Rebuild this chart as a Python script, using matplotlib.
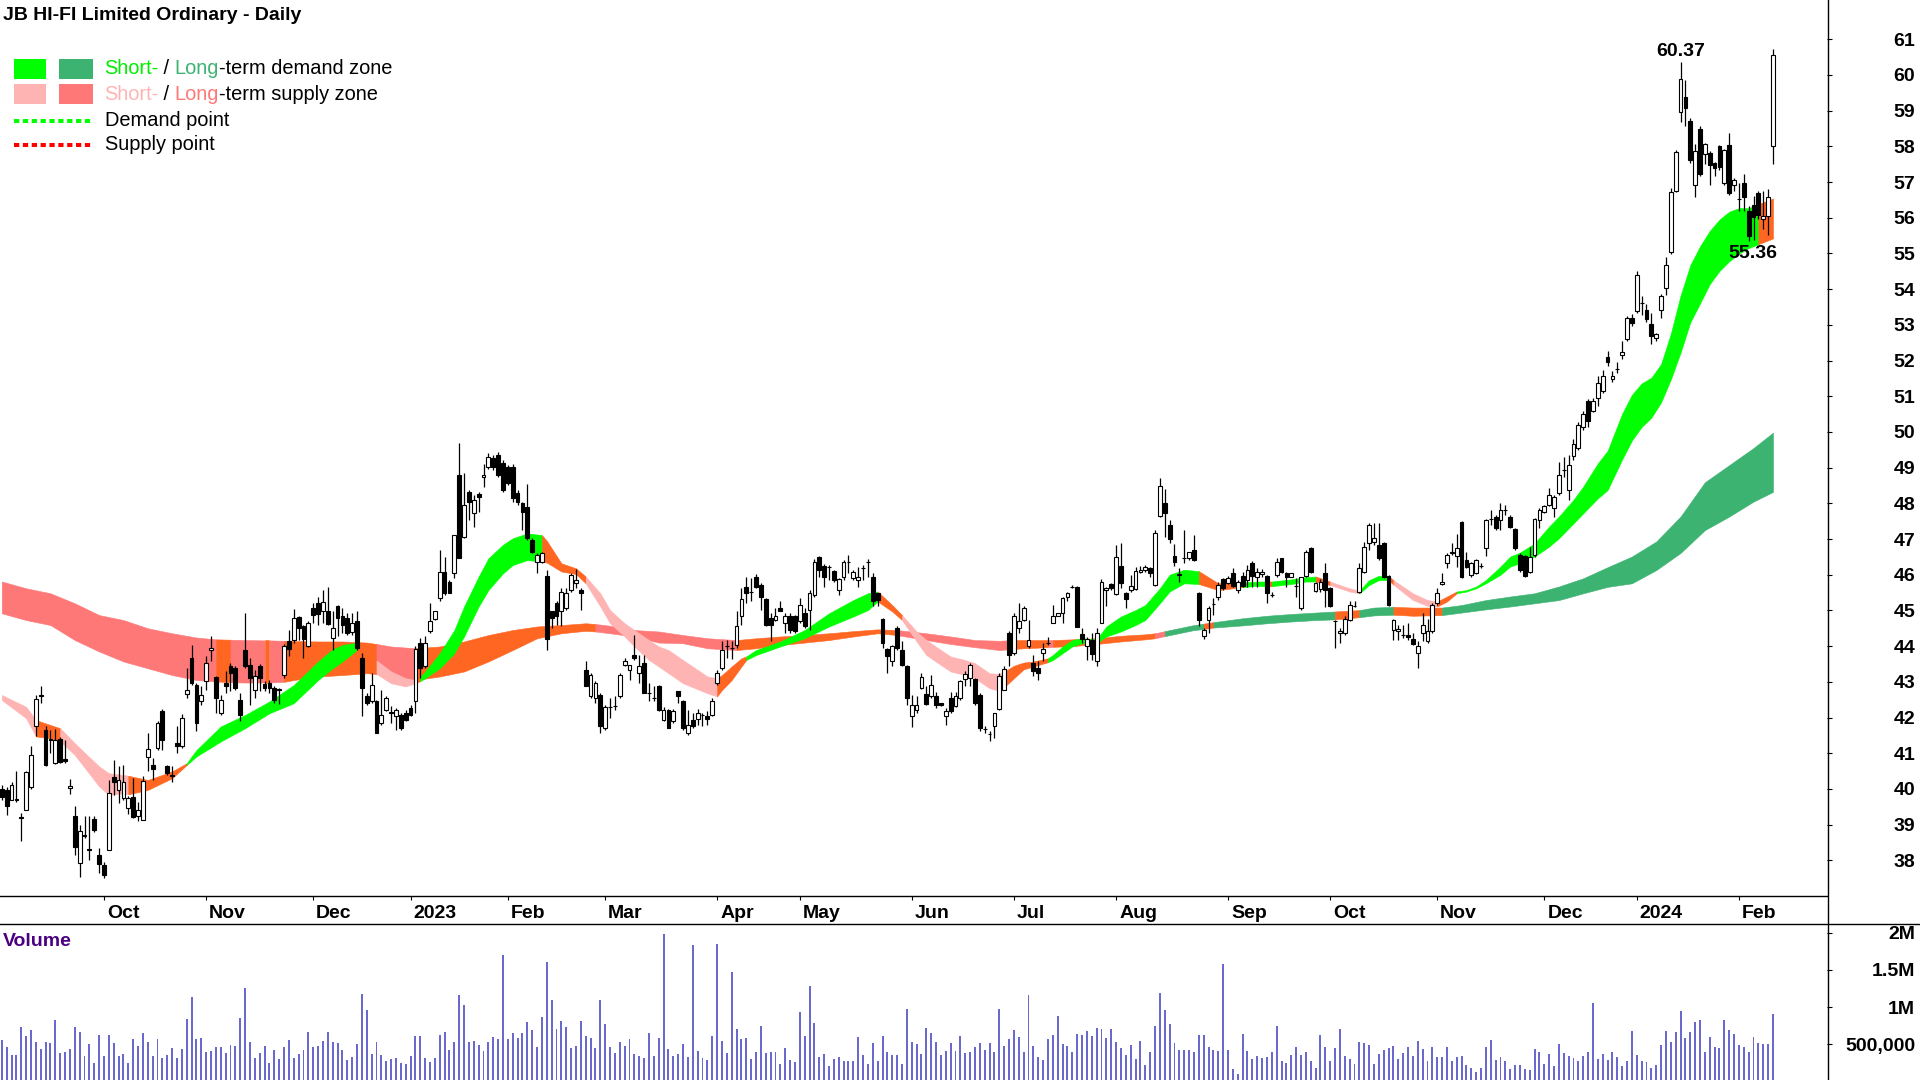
import numpy as np
import matplotlib.pyplot as plt
from matplotlib.lines import Line2D
from matplotlib.patches import Rectangle

# daily candles, index 0 = first trading day shown (early Sep 2022)
opens = [
    40.00, 39.98, 39.70, 39.68, 39.20, 39.42, 40.05, 41.75, 42.64, 41.66,
    41.40, 40.72, 41.40, 40.84, 40.02, 39.25, 37.92, 38.70, 38.32, 39.17,
    38.15, 37.88, 38.30, 40.33, 39.98, 39.74, 39.46, 39.77, 39.23, 39.14,
    40.89, 40.68, 41.14, 42.17, 40.63, 40.38, 41.30, 41.19, 42.66, 43.66,
    42.90, 42.47, 43.01, 43.88, 43.13, 42.12, 42.98, 43.43, 43.38, 42.50,
    43.90, 43.47, 42.78, 43.45, 42.94, 42.98, 42.82, 42.80, 43.20, 44.13,
    44.18, 44.81, 44.57, 43.99, 45.06, 45.20, 44.97, 44.99, 44.24, 45.13,
    44.85, 44.78, 44.40, 44.70, 43.66, 42.60, 42.45, 42.46, 41.84, 42.21,
    42.16, 42.03, 42.07, 42.12, 42.26, 42.45, 44.10, 43.43, 44.41, 44.75,
    45.34, 46.09, 45.81, 46.04, 48.80, 47.07, 48.33, 47.72, 48.26, 48.73,
    49.03, 49.26, 49.36, 49.12, 49.03, 49.03, 48.28, 48.00, 47.89, 46.97,
    46.37, 46.37, 45.97, 44.97, 45.22, 44.97, 45.06, 45.57, 45.76, 45.57,
    43.33, 42.59, 42.54, 42.63, 41.70, 42.29, 42.33, 42.59, 43.47, 43.33,
    43.75, 43.24, 43.54, 42.68, 42.54, 42.87, 41.93, 42.21, 41.89, 42.75,
    42.45, 41.56, 41.93, 41.95, 42.07, 42.03, 42.07, 42.96, 43.38, 43.99,
    43.94, 44.03, 44.83, 45.67, 45.53, 45.95, 45.71, 45.32, 44.78, 44.73,
    45.06, 44.64, 44.85, 44.83, 44.69, 44.92, 45.01, 45.43, 46.51, 46.25,
    46.23, 46.11, 45.57, 45.93, 46.37, 45.90, 45.85, 46.18, 46.37, 45.95,
    45.48, 44.75, 43.91, 43.57, 44.50, 43.89, 43.45, 42.03, 42.21, 42.82,
    42.66, 42.59, 42.60, 42.40, 42.03, 42.54, 42.31, 42.54, 43.07, 43.10,
    43.07, 42.63, 41.67, 41.54, 41.76, 42.23, 42.77, 44.36, 43.80, 44.50,
    44.73, 43.99, 43.52, 43.38, 43.80, 44.08, 44.66, 44.85, 44.94, 45.37,
    45.67, 45.67, 44.34, 43.99, 44.17, 43.57, 44.66, 45.57, 45.74, 45.46,
    46.25, 45.50, 45.57, 45.59, 46.07, 46.13, 46.18, 45.71, 47.65, 48.00,
    47.40, 46.53, 46.00, 46.46, 46.46, 46.68, 45.50, 44.29, 44.73, 45.18,
    45.39, 45.88, 45.78, 46.04, 45.57, 45.97, 45.85, 46.34, 45.95, 46.02,
    45.97, 45.43, 45.99, 46.46, 46.06, 45.95, 45.69, 45.06, 45.97, 46.74,
    45.55, 45.60, 46.06, 45.62, 44.69, 44.36, 44.36, 44.73, 45.13, 45.53,
    46.09, 46.88, 46.93, 46.83, 46.90, 45.97, 44.45, 44.43, 44.31, 44.31,
    44.19, 43.82, 44.36, 44.15, 44.41, 45.20, 45.74, 46.34, 46.60, 46.53,
    47.49, 46.41, 45.99, 46.04, 46.25, 46.74, 47.55, 47.63, 47.53, 47.80,
    47.63, 47.27, 46.55, 46.53, 46.09, 46.55, 47.53, 47.77, 47.96, 47.86,
    48.28, 48.94, 48.38, 49.33, 49.55, 50.13, 50.88, 50.60, 50.94, 51.15,
    52.11, 51.47, 51.77, 52.16, 52.59, 53.18, 53.39, 53.60, 53.41, 53.02,
    52.62, 53.41, 54.03, 55.04, 56.75, 58.96, 59.37, 58.71, 56.93, 58.49,
    57.79, 57.82, 57.52, 58.00, 56.97, 58.03, 56.93, 56.53, 56.97, 56.19,
    56.35, 56.70, 55.96, 56.06, 58.00,
]
highs = [
    40.10, 40.05, 40.18, 40.49, 39.32, 40.50, 41.19, 42.64, 42.89, 41.75,
    41.66, 41.68, 41.45, 41.38, 40.27, 39.51, 39.00, 39.23, 39.23, 39.25,
    38.35, 37.95, 40.26, 40.82, 40.63, 40.67, 39.80, 40.30, 39.62, 40.35,
    41.56, 40.86, 41.90, 42.24, 40.68, 40.63, 41.75, 42.10, 43.38, 44.04,
    42.98, 42.88, 43.71, 44.29, 43.15, 42.64, 43.29, 43.54, 43.43, 42.68,
    44.92, 43.66, 43.34, 43.50, 43.01, 43.05, 42.87, 42.82, 44.06, 44.44,
    45.04, 44.83, 44.60, 44.71, 45.20, 45.37, 45.56, 45.67, 44.97, 45.16,
    45.06, 44.92, 44.92, 44.99, 43.80, 42.68, 43.24, 42.49, 42.77, 42.59,
    42.31, 42.26, 42.12, 42.21, 42.35, 44.00, 44.22, 44.27, 45.22, 44.99,
    46.70, 46.50, 45.85, 47.11, 49.68, 48.84, 48.38, 48.24, 48.33, 49.10,
    49.42, 49.36, 49.45, 49.21, 49.07, 49.10, 48.38, 48.05, 48.53, 47.02,
    46.60, 46.65, 46.13, 44.97, 45.25, 45.62, 45.62, 46.04, 46.15, 45.62,
    43.57, 43.26, 43.01, 42.68, 42.35, 42.54, 42.59, 43.24, 43.66, 43.47,
    44.31, 43.75, 43.75, 42.96, 42.87, 42.91, 42.29, 42.24, 42.24, 42.75,
    42.50, 42.21, 42.12, 42.24, 42.12, 42.17, 42.54, 43.33, 44.13, 44.17,
    44.13, 44.97, 45.62, 45.95, 45.90, 46.02, 45.76, 45.34, 44.92, 45.06,
    45.25, 44.94, 44.94, 44.87, 45.34, 45.06, 45.57, 46.43, 46.53, 46.30,
    46.27, 46.13, 45.90, 46.41, 46.55, 46.13, 46.23, 46.27, 46.43, 46.04,
    45.50, 44.78, 43.94, 44.03, 44.55, 44.13, 43.48, 42.63, 42.59, 43.24,
    42.87, 43.19, 42.72, 42.40, 42.26, 42.72, 42.72, 43.05, 43.29, 43.54,
    43.10, 42.68, 41.75, 41.61, 42.14, 43.24, 43.43, 44.41, 44.92, 45.20,
    45.11, 44.73, 43.75, 43.57, 44.08, 44.25, 45.15, 44.94, 45.39, 45.53,
    45.71, 45.69, 44.50, 44.25, 44.36, 44.50, 45.88, 45.67, 45.78, 46.83,
    46.88, 45.53, 45.99, 46.23, 46.25, 46.27, 46.21, 47.24, 48.70, 48.39,
    47.53, 46.86, 46.18, 47.26, 46.65, 47.10, 45.53, 44.50, 45.11, 45.34,
    45.81, 45.90, 45.97, 46.18, 45.85, 46.09, 46.27, 46.39, 46.18, 46.16,
    46.00, 45.53, 46.48, 46.48, 46.09, 46.06, 45.90, 45.95, 46.69, 46.79,
    45.81, 45.87, 46.34, 45.67, 44.73, 44.50, 44.83, 45.25, 45.25, 46.32,
    46.93, 47.44, 47.44, 47.44, 46.93, 46.00, 44.75, 44.59, 44.59, 44.64,
    44.36, 44.13, 44.92, 44.75, 45.22, 45.62, 46.04, 46.60, 46.88, 47.13,
    47.51, 46.65, 46.37, 46.43, 46.32, 47.57, 47.81, 47.67, 48.02, 47.95,
    47.67, 47.30, 46.60, 46.55, 46.79, 47.58, 47.86, 47.96, 48.42, 48.24,
    49.17, 49.30, 49.35, 49.80, 50.28, 50.60, 50.93, 50.95, 51.57, 51.73,
    52.27, 51.70, 51.95, 52.54, 53.24, 53.29, 54.50, 53.82, 53.58, 53.34,
    52.77, 53.86, 54.91, 56.83, 57.89, 60.37, 59.85, 58.79, 58.08, 58.57,
    58.09, 57.87, 57.55, 58.03, 57.93, 58.38, 57.10, 56.97, 57.23, 56.33,
    56.60, 56.75, 56.75, 56.80, 60.73,
]
lows = [
    39.70, 39.28, 39.68, 39.62, 38.53, 39.40, 40.00, 41.47, 42.40, 40.65,
    41.00, 40.70, 40.72, 40.72, 39.85, 38.16, 37.52, 38.62, 38.02, 38.80,
    37.64, 37.50, 38.28, 39.84, 39.60, 39.70, 39.30, 39.18, 39.10, 39.12,
    40.49, 40.24, 41.10, 41.10, 40.40, 40.18, 41.00, 41.15, 42.55, 42.92,
    41.61, 42.36, 42.78, 43.57, 42.12, 42.07, 42.68, 42.73, 42.78, 41.89,
    43.40, 42.36, 42.54, 42.73, 42.73, 42.68, 42.40, 42.38, 43.10, 43.71,
    44.08, 44.18, 43.66, 43.97, 44.64, 44.60, 44.64, 44.60, 43.89, 44.27,
    44.36, 44.31, 44.31, 43.89, 42.03, 42.35, 42.40, 41.56, 41.79, 42.17,
    41.84, 41.65, 41.65, 41.89, 42.03, 42.12, 43.10, 43.38, 44.36, 44.73,
    45.25, 45.43, 45.48, 45.90, 46.46, 47.02, 47.53, 47.35, 47.77, 48.47,
    48.95, 48.94, 48.75, 48.33, 48.52, 48.05, 47.96, 47.26, 46.97, 46.60,
    46.04, 46.32, 43.90, 44.50, 44.59, 44.55, 45.01, 45.53, 45.62, 45.02,
    42.87, 42.54, 42.40, 41.56, 41.65, 41.98, 42.21, 42.54, 43.43, 43.05,
    43.61, 42.96, 42.68, 42.45, 42.45, 42.17, 41.89, 41.70, 41.84, 42.40,
    41.65, 41.52, 41.70, 41.79, 41.75, 41.79, 42.03, 42.91, 43.33, 43.66,
    43.63, 43.94, 44.59, 45.20, 45.25, 45.62, 45.01, 44.55, 44.13, 44.69,
    44.97, 44.36, 44.36, 44.36, 44.64, 44.50, 44.45, 45.39, 45.95, 45.67,
    45.85, 45.81, 45.43, 45.85, 46.04, 45.85, 45.67, 45.85, 45.95, 45.11,
    45.11, 43.94, 43.24, 43.43, 43.89, 43.43, 42.35, 41.74, 42.12, 42.79,
    42.35, 42.54, 42.26, 42.31, 41.79, 42.12, 42.29, 42.49, 42.87, 42.87,
    42.35, 41.61, 41.56, 41.33, 41.42, 42.21, 42.77, 43.43, 43.75, 44.36,
    44.69, 43.94, 43.15, 43.05, 43.57, 44.03, 44.64, 44.85, 44.64, 45.25,
    45.62, 44.53, 44.08, 43.61, 43.61, 43.43, 44.64, 45.11, 45.57, 45.43,
    45.62, 45.06, 45.53, 45.57, 46.04, 46.09, 45.95, 45.69, 47.63, 47.07,
    46.88, 46.25, 45.81, 46.32, 46.41, 46.39, 44.55, 44.19, 44.36, 44.87,
    45.29, 45.57, 45.74, 45.67, 45.48, 45.67, 45.67, 45.67, 45.67, 45.95,
    45.20, 45.39, 45.95, 46.04, 45.67, 45.93, 45.39, 45.00, 45.95, 46.06,
    45.53, 45.53, 45.10, 45.09, 43.94, 44.08, 44.31, 44.69, 45.09, 45.48,
    46.04, 46.69, 46.83, 46.41, 45.90, 45.11, 44.17, 44.17, 44.22, 44.17,
    44.03, 43.38, 44.13, 44.10, 44.36, 45.15, 45.71, 46.18, 46.55, 46.22,
    45.90, 46.18, 45.95, 46.02, 46.18, 46.53, 47.39, 47.25, 47.25, 47.67,
    47.30, 46.69, 46.09, 45.95, 46.04, 46.51, 47.30, 47.72, 47.93, 47.63,
    48.24, 48.75, 48.10, 49.20, 49.50, 50.05, 50.15, 50.55, 50.73, 51.10,
    51.85, 51.40, 51.64, 52.05, 52.54, 52.97, 53.34, 53.28, 53.07, 52.45,
    52.56, 53.18, 53.84, 54.98, 56.71, 58.68, 58.57, 57.53, 56.57, 57.18,
    57.50, 56.91, 57.17, 57.34, 56.91, 56.65, 56.76, 56.18, 56.18, 55.36,
    55.38, 55.96, 55.68, 55.52, 57.50,
]
closes = [
    39.77, 39.51, 40.11, 39.73, 39.18, 40.46, 40.96, 42.52, 42.59, 40.67,
    41.36, 41.36, 40.75, 40.78, 40.08, 38.37, 38.83, 38.68, 38.30, 38.84,
    37.90, 37.60, 39.88, 40.18, 40.26, 40.18, 39.74, 39.21, 39.40, 40.21,
    41.12, 40.56, 41.86, 41.38, 40.44, 40.36, 41.19, 42.00, 42.78, 42.97,
    41.84, 42.64, 43.54, 43.94, 42.54, 42.48, 42.89, 43.24, 42.82, 42.08,
    43.43, 43.10, 43.15, 43.10, 42.82, 42.82, 42.50, 42.78, 44.01, 43.92,
    44.78, 44.50, 44.20, 44.66, 44.88, 44.90, 45.23, 44.62, 44.50, 44.80,
    44.59, 44.36, 44.64, 43.94, 42.82, 42.40, 42.91, 41.58, 42.07, 42.54,
    42.12, 42.21, 41.70, 41.93, 42.07, 43.91, 43.38, 44.10, 44.69, 44.97,
    46.09, 45.48, 45.50, 47.11, 46.46, 47.96, 48.05, 48.10, 48.17, 48.80,
    49.31, 49.03, 48.80, 48.38, 48.56, 48.14, 48.05, 47.77, 47.02, 46.65,
    46.55, 46.60, 44.19, 44.78, 44.83, 45.53, 45.50, 45.99, 45.85, 45.50,
    42.87, 43.19, 42.96, 41.75, 42.30, 42.29, 42.33, 43.19, 43.57, 43.47,
    43.66, 43.43, 42.68, 42.68, 42.54, 42.21, 42.21, 41.70, 42.19, 42.59,
    41.70, 41.79, 41.75, 42.12, 42.07, 41.95, 42.45, 43.24, 43.89, 43.99,
    43.94, 44.57, 45.31, 45.48, 45.53, 45.67, 45.39, 44.59, 44.59, 44.83,
    44.97, 44.83, 44.45, 44.41, 45.15, 44.55, 45.48, 46.37, 46.13, 45.95,
    46.23, 45.85, 45.88, 46.37, 46.37, 46.09, 45.95, 46.18, 46.37, 45.25,
    45.29, 44.08, 43.71, 43.99, 43.94, 43.47, 42.54, 42.35, 42.35, 43.13,
    42.38, 42.91, 42.35, 42.35, 42.19, 42.17, 42.59, 43.01, 43.22, 43.47,
    42.40, 41.70, 41.67, 41.54, 42.12, 43.16, 43.35, 43.75, 44.83, 44.69,
    45.06, 44.17, 43.29, 43.24, 43.91, 44.08, 44.83, 44.92, 45.34, 45.50,
    45.67, 44.53, 44.19, 44.19, 43.78, 44.38, 45.81, 45.62, 45.62, 46.51,
    45.76, 45.31, 45.69, 46.11, 46.13, 46.23, 46.04, 47.18, 48.49, 47.74,
    46.99, 46.37, 46.02, 46.46, 46.63, 46.41, 44.73, 44.45, 45.08, 45.18,
    45.70, 45.62, 45.92, 45.69, 45.81, 45.69, 46.13, 45.97, 46.09, 46.09,
    45.50, 45.43, 46.37, 46.09, 45.95, 46.04, 45.69, 45.93, 46.65, 46.09,
    45.78, 45.81, 45.57, 45.11, 44.69, 44.43, 44.75, 45.15, 45.13, 46.18,
    46.79, 47.39, 47.02, 46.46, 45.95, 45.15, 44.73, 44.47, 44.31, 44.25,
    44.06, 43.99, 44.59, 44.43, 45.15, 45.48, 45.81, 46.55, 46.65, 46.74,
    45.95, 46.23, 46.34, 46.41, 46.25, 47.53, 47.55, 47.30, 47.81, 47.80,
    47.35, 46.74, 46.13, 45.97, 46.51, 47.55, 47.81, 47.93, 48.24, 48.19,
    48.80, 48.94, 49.07, 49.66, 50.19, 50.51, 50.30, 50.88, 51.36, 51.58,
    51.95, 51.58, 51.77, 52.24, 53.18, 53.05, 54.40, 53.60, 53.16, 52.70,
    52.75, 53.82, 54.67, 56.72, 57.85, 59.88, 59.07, 57.61, 57.87, 57.23,
    58.07, 57.47, 57.39, 57.41, 57.90, 56.70, 57.07, 56.53, 56.57, 55.50,
    56.03, 56.08, 56.06, 56.57, 60.56,
]
# volume in thousands of shares
volumes = [
    551, 470, 358, 358, 739, 614, 694, 533, 439, 533,
    515, 820, 381, 403, 439, 739, 668, 345, 506, 246,
    627, 336, 627, 524, 345, 372, 246, 573, 479, 650,
    533, 345, 573, 314, 358, 452, 314, 439, 842, 1138,
    573, 587, 399, 412, 466, 466, 385, 493, 479, 856,
    1259, 533, 318, 385, 479, 251, 426, 305, 466, 560,
    318, 372, 426, 668, 466, 479, 547, 668, 533, 520,
    426, 291, 332, 506, 1178, 963, 372, 533, 358, 278,
    305, 318, 251, 237, 345, 614, 614, 318, 264, 318,
    627, 668, 426, 533, 1165, 1030, 533, 547, 493, 412,
    533, 600, 573, 1702, 573, 654, 587, 654, 802, 694,
    466, 869, 1608, 1098, 708, 815, 735, 452, 479, 815,
    614, 587, 452, 1098, 775, 466, 385, 533, 479, 573,
    372, 345, 318, 654, 345, 587, 1985, 439, 345, 372,
    506, 332, 1837, 412, 318, 291, 614, 1850, 547, 385,
    1474, 708, 573, 587, 305, 399, 748, 385, 399, 399,
    237, 452, 291, 264, 936, 614, 1286, 788, 332, 372,
    211, 305, 332, 278, 278, 278, 600, 358, 237, 520,
    278, 614, 399, 358, 358, 237, 977, 533, 506, 372,
    721, 654, 533, 358, 412, 520, 412,
    605, 381, 390, 470, 515, 417, 524, 390, 972, 479,
    569, 694, 596, 390, 1169, 479, 327, 291, 569, 627,
    883, 506, 479, 403, 641, 627, 672, 605, 717, 708,
    582, 708, 533, 452, 358, 493, 305, 547, 224, 390,
    748, 1196, 963, 775, 524, 417, 426, 426, 390, 627,
    627, 457, 426, 412, 1581, 417, 170, 103, 641, 412,
    300, 336, 314, 327, 390, 748, 278, 255, 358, 457,
    358, 390, 273, 184, 627, 466, 282, 452, 712, 345,
    300, 237, 533, 520, 488, 237, 372, 417, 444, 479,
    300, 381, 470, 336, 547, 439, 278, 470, 327, 332,
    466, 278, 323, 345, 224, 184, 130, 184, 457, 560,
    291, 332, 278, 170, 215, 215, 166, 157, 439, 399,
    237, 372, 211, 506, 381, 345, 314, 282, 345, 399,
    1052, 309, 372, 287, 399, 327, 202, 282, 681, 358,
    282, 264, 184, 224, 493, 681, 533, 663, 954, 587,
    663, 802, 820, 394, 596, 470, 452, 824, 694, 641,
    493, 457, 390, 600, 524, 506, 502, 909,
]

# short-term zone band, read at selected days
st_x = [0, 5, 7, 10, 12, 15, 20, 22, 25, 26, 30, 35, 38, 40, 45, 50, 55, 60, 65, 68,
        70, 73, 75, 77, 80, 83, 85, 86, 87, 90, 93, 95, 98, 100, 103, 105, 108, 111, 112, 115,
        118, 120, 123, 125, 128, 130, 133, 135, 137, 140, 145, 147, 148, 150, 152, 153, 155, 160, 165, 170,
        175, 178, 180, 183, 185, 188, 190, 193, 195, 198, 200, 203, 205, 206, 208, 210, 212, 215, 216, 218,
        220, 222, 225, 227, 230, 233, 235, 238, 240, 243, 246, 250, 253, 255, 258, 260, 261, 265, 268, 270,
        273, 275, 277, 279, 281, 283, 285, 286, 290, 293, 295, 297, 299, 301, 303, 305, 308, 310, 312, 315,
        318, 320, 323, 325, 328, 330, 333, 335, 337, 339, 341, 343, 345, 347, 349, 351, 353, 355, 357, 359,
        361, 364]
st_hi = [42.63, 42.30, 41.93, 41.79, 41.70, 41.28, 40.63, 40.44, 40.39, 40.37, 40.25, 40.49, 40.72, 41.09, 41.75, 42.07, 42.45, 42.91, 43.57, 43.91,
         44.03, 44.10, 43.80, 43.60, 43.29, 43.10, 43.05, 43.14, 43.29, 43.80, 44.45, 45.11, 45.95, 46.46, 46.84, 47.02, 47.16, 47.11, 46.95, 46.32,
         46.18, 45.95, 45.48, 45.01, 44.64, 44.45, 44.17, 43.99, 43.89, 43.61, 43.15, 43.10, 43.19, 43.43, 43.66, 43.71, 43.89, 44.13, 44.45, 44.92,
         45.29, 45.48, 45.53, 45.15, 44.87, 44.41, 44.17, 43.89, 43.71, 43.61, 43.52, 43.24, 43.22, 43.28, 43.45, 43.54, 43.57, 43.66, 43.75, 43.99,
         44.17, 44.22, 44.19, 44.55, 44.83, 45.01, 45.15, 45.62, 46.00, 46.14, 46.10, 45.76, 45.76, 45.78, 45.81, 45.81, 45.81, 45.87, 45.93, 45.95,
         45.81, 45.71, 45.62, 45.55, 45.85, 45.97, 45.95, 45.85, 45.48, 45.29, 45.25, 45.39, 45.53, 45.57, 45.67, 45.85, 46.23, 46.51, 46.62, 46.88,
         47.35, 47.63, 48.10, 48.47, 49.12, 49.47, 50.51, 51.04, 51.36, 51.52, 51.90, 52.75, 53.82, 54.67, 55.20, 55.63, 55.95, 56.17, 56.27, 56.27,
         56.38, 56.54]
st_lo = [42.49, 41.98, 41.47, 41.42, 41.33, 40.95, 40.07, 39.83, 39.88, 39.85, 39.97, 40.30, 40.67, 40.91, 41.33, 41.70, 42.12, 42.40, 43.05, 43.38,
         43.57, 43.89, 43.43, 43.22, 42.96, 42.87, 42.96, 43.02, 43.10, 43.38, 43.80, 44.27, 45.11, 45.57, 46.04, 46.27, 46.41, 46.37, 46.34, 46.09,
         46.02, 45.76, 45.11, 44.64, 44.27, 43.99, 43.61, 43.43, 43.24, 42.96, 42.68, 42.59, 42.77, 43.05, 43.43, 43.61, 43.75, 43.99, 44.22, 44.55,
         44.83, 45.01, 45.25, 44.97, 44.73, 44.13, 43.75, 43.47, 43.29, 43.19, 43.10, 42.82, 42.75, 42.85, 43.10, 43.35, 43.43, 43.55, 43.61, 43.80,
         43.99, 44.08, 44.08, 44.27, 44.41, 44.59, 44.73, 45.20, 45.53, 45.76, 45.74, 45.57, 45.62, 45.65, 45.69, 45.67, 45.68, 45.74, 45.81, 45.81,
         45.71, 45.62, 45.53, 45.48, 45.71, 45.85, 45.85, 45.72, 45.29, 45.13, 45.11, 45.25, 45.48, 45.53, 45.62, 45.76, 46.00, 46.23, 46.32, 46.51,
         46.79, 47.02, 47.44, 47.72, 48.14, 48.37, 49.23, 49.76, 50.14, 50.40, 50.83, 51.47, 52.22, 53.07, 53.60, 54.14, 54.51, 54.78, 54.99, 55.15,
         55.26, 55.42]
# g = short-term demand, p = short-term supply, o = neutral (colour of the span starting at each sample)
st_zone = ("ppoopppppooo" "ggggggggg" "oo" "ppp" "o" "gggggggggg" "oooo" "pppppppppp" "oooo"
           "ggggggg" "oo" "ppppppppp" "oooo" "ggggggggggggg" "ooo" "gg" "o" "ggg" "o" "ppp"
           "ggg" "o" "ppp" "oo" "g" "ggggggggggggggggggggggggggg" "oo")

# long-term zone band
lt_x = [0, 5, 10, 15, 20, 25, 30, 35, 40, 44, 47, 50, 54, 55, 58, 60, 65, 70, 75, 77,
        80, 85, 90, 95, 100, 105, 110, 115, 120, 122, 125, 130, 135, 140, 145, 151, 155, 160, 165, 170,
        175, 180, 184, 190, 195, 200, 205, 208, 210, 215, 216, 220, 225, 230, 235, 237, 239, 245, 247, 249,
        255, 260, 265, 270, 274, 279, 282, 286, 290, 296, 300, 305, 310, 315, 320, 325, 330, 335, 340, 345,
        350, 355, 360, 364]
lt_hi = [45.81, 45.62, 45.48, 45.20, 44.87, 44.73, 44.50, 44.36, 44.24, 44.19, 44.18, 44.17, 44.16, 44.16, 44.15, 44.14, 44.13, 44.13, 44.10, 44.06,
         43.99, 43.94, 43.99, 44.13, 44.31, 44.45, 44.55, 44.59, 44.64, 44.62, 44.57, 44.45, 44.41, 44.31, 44.22, 44.17, 44.22, 44.27, 44.31, 44.36,
         44.42, 44.47, 44.45, 44.36, 44.27, 44.17, 44.15, 44.17, 44.17, 44.17, 44.17, 44.19, 44.22, 44.29, 44.33, 44.36, 44.42, 44.59, 44.63, 44.67,
         44.78, 44.85, 44.90, 44.94, 44.97, 45.01, 45.08, 45.10, 45.08, 45.08, 45.15, 45.29, 45.39, 45.48, 45.67, 45.90, 46.21, 46.51, 46.93, 47.63,
         48.59, 49.07, 49.55, 49.98]
lt_lo = [44.92, 44.73, 44.59, 44.17, 43.85, 43.57, 43.38, 43.19, 43.05, 43.01, 42.99, 42.98, 42.98, 42.98, 43.00, 43.05, 43.15, 43.19, 43.24, 43.22,
         43.15, 43.05, 43.15, 43.29, 43.57, 43.89, 44.22, 44.36, 44.43, 44.41, 44.36, 44.27, 44.10, 44.08, 43.94, 43.89, 43.94, 44.03, 44.10, 44.17,
         44.27, 44.36, 44.31, 44.17, 44.06, 43.97, 43.89, 43.92, 43.94, 43.97, 43.98, 44.00, 44.06, 44.13, 44.19, 44.22, 44.28, 44.45, 44.48, 44.52,
         44.58, 44.64, 44.69, 44.73, 44.75, 44.81, 44.86, 44.88, 44.85, 44.87, 44.94, 45.03, 45.11, 45.20, 45.29, 45.48, 45.66, 45.76, 46.13, 46.61,
         47.25, 47.63, 48.05, 48.32]
# G = long-term demand, R = long-term supply, o = neutral
lt_zone = ("RRRRRRRRR" "o" "RR" "o" "R" "ooooo" "RR" "oooooooo" "RRRRRR" "ooooooo" "RRRRR"
           "oo" "R" "ooooo" "R" "GG" "o" "GGGGG" "o" "GG" "oo" "GGGGGGGGGGGGGGG")

# swing points that carry a price label
peak_day = 345
trough_day = 359

month_idx = [21, 42, 64, 84, 104, 124, 147, 164, 187, 208, 229, 252, 273, 295, 317, 336, 357]
month_lbl = ["Oct", "Nov", "Dec", "2023", "Feb", "Mar", "Apr", "May", "Jun", "Jul",
             "Aug", "Sep", "Oct", "Nov", "Dec", "2024", "Feb"]

zone_colors = {"g": "#00FF00", "G": "#3CB371", "p": "#FFB4B4", "R": "#FF7878", "o": "#FF6622"}

plt.rcParams["font.family"] = ["Liberation Sans", "DejaVu Sans"]
FS = 14

W, H = 1920, 1080
fig = plt.figure(figsize=(19.2, 10.8), dpi=100)
fig.patch.set_facecolor("white")


def fx(x):
    return x / W


def fy(y):
    return 1 - y / H


ax = fig.add_axes([0, fy(896), fx(1827), 896 / H])
axv = fig.add_axes([0, 0, fx(1827), (H - 924) / H])


def draw_band(xs, hi, lo, zones, z):
    k0 = 0
    n = len(xs)
    for k in range(1, n):
        if zones[k] != zones[k0] or k == n - 1:
            col = zone_colors[zones[k0]]
            ax.fill_between(xs[k0:k + 1], hi[k0:k + 1], lo[k0:k + 1],
                            facecolor=col, edgecolor=col, lw=0.4, zorder=z)
            k0 = k


assert len(st_x) == len(st_hi) == len(st_lo) == len(st_zone)
assert len(lt_x) == len(lt_hi) == len(lt_lo) == len(lt_zone)
draw_band(lt_x, lt_hi, lt_lo, lt_zone, 1)
draw_band(st_x, st_hi, st_lo, st_zone, 2)

o = np.array(opens)
h = np.array(highs)
l = np.array(lows)
c = np.array(closes)
idx = np.arange(len(c))
up = c >= o
ax.vlines(idx, l, h, color="black", lw=0.9, zorder=3)
ax.bar(idx, np.abs(c - o), bottom=np.minimum(o, c), width=0.78,
       color=np.where(up, "white", "black"), edgecolor="black", linewidth=0.8, zorder=4)

# swing labels
ax.text(peak_day, h[peak_day] + 0.3, f"{h[peak_day]:.2f}", ha="center", va="center",
        fontsize=FS, fontweight="bold", zorder=6)
ax.text(trough_day + 0.9, l[trough_day] - 0.35, f"{l[trough_day]:.2f}", ha="center",
        va="center", fontsize=FS, fontweight="bold", zorder=6)

ax.set_xlim(-0.37, 375.1)
ax.set_ylim(37.0, 62.1)
for s in ["top", "left", "right"]:
    ax.spines[s].set_visible(False)
ax.spines["bottom"].set_linewidth(1.0)
ax.yaxis.tick_right()
ax.set_yticks(np.arange(38, 62))
ax.set_yticklabels([str(v) for v in range(38, 62)])
ax.tick_params(axis="y", direction="out", length=3.6, width=0.8, pad=59.8,
               labelsize=FS)
for lab in ax.get_yticklabels():
    lab.set_horizontalalignment("right")
    lab.set_fontweight("bold")
ax.set_xticks(month_idx)
ax.tick_params(axis="x", direction="out", length=3, width=0.8, labelbottom=False)
for xi, lbl in zip(month_idx, month_lbl):
    ax.annotate(lbl, xy=(xi, 0), xycoords=("data", "axes fraction"),
                xytext=(3, -17), textcoords="offset pixels", ha="left", va="center",
                fontsize=FS, fontweight="bold", annotation_clip=False)

vol = np.array(volumes) * 1000
axv.bar(idx, vol, width=0.4, color="#6A6ACE", linewidth=0)
axv.set_xlim(-0.37, 375.1)
axv.set_ylim(20000, 2117000)
for s in axv.spines.values():
    s.set_visible(False)
axv.yaxis.tick_right()
axv.set_yticks([500000, 1000000, 1500000, 2000000])
axv.set_yticklabels(["500,000", "1M", "1.5M", "2M"])
axv.tick_params(axis="y", direction="out", length=3.6, width=0.8, pad=59.8, labelsize=FS)
for lab in axv.get_yticklabels():
    lab.set_horizontalalignment("right")
    lab.set_fontweight("bold")
axv.set_xticks([])

# frame lines
fig.add_artist(Line2D([fx(1827.5)] * 2, [0, 1], color="black", lw=1.0))
fig.add_artist(Line2D([0, 1], [fy(924)] * 2, color="black", lw=1.0))

# title and panel label
fig.text(fx(3), fy(15), "JB HI-FI Limited Ordinary - Daily", fontsize=FS,
         fontweight="bold", va="center", ha="left")
fig.text(fx(3), fy(942), "Volume", fontsize=FS, fontweight="bold", color="#4B0082",
         va="center", ha="left")

# legend
for x0, x1, y0, y1, col in [(14, 46, 59, 79, "#00FF00"), (59, 93, 59, 79, "#3CB371"),
                            (14, 46, 84, 104, "#FFB4B4"), (59, 93, 84, 104, "#FF7878")]:
    fig.add_artist(Rectangle((fx(x0), fy(y1)), fx(x1 - x0), (y1 - y0) / H,
                             transform=fig.transFigure, facecolor=col, edgecolor="none"))

LFS = 14.4


def colored_text(x, y, parts):
    t = fig.text(fx(x), fy(y), parts[0][0], color=parts[0][1], fontsize=LFS,
                 va="center", ha="left")
    for s, col in parts[1:]:
        t = ax.annotate(s, xy=(1, 0), xycoords=t, va="bottom", ha="left",
                        color=col, fontsize=LFS)


colored_text(104, 69, [("Short-", "#00EE00"), (" / ", "black"), ("Long", "#3CB371"),
                       ("-term demand zone", "black")])
colored_text(104, 94, [("Short-", "#FFB4B4"), (" / ", "black"), ("Long", "#FF7878"),
                       ("-term supply zone", "black")])
fig.add_artist(Line2D([fx(14), fx(92)], [fy(121)] * 2, color="#00FF00", lw=2.9,
                      dashes=(1.3, 0.9), dash_capstyle="butt"))
fig.add_artist(Line2D([fx(14), fx(92)], [fy(145)] * 2, color="#FF0000", lw=2.9,
                      dashes=(1.3, 0.9), dash_capstyle="butt"))
fig.text(fx(105), fy(120), "Demand point", fontsize=LFS, va="center", ha="left")
fig.text(fx(105), fy(145), "Supply point", fontsize=LFS, va="center", ha="left")

fig.savefig("out.png", dpi=100)
